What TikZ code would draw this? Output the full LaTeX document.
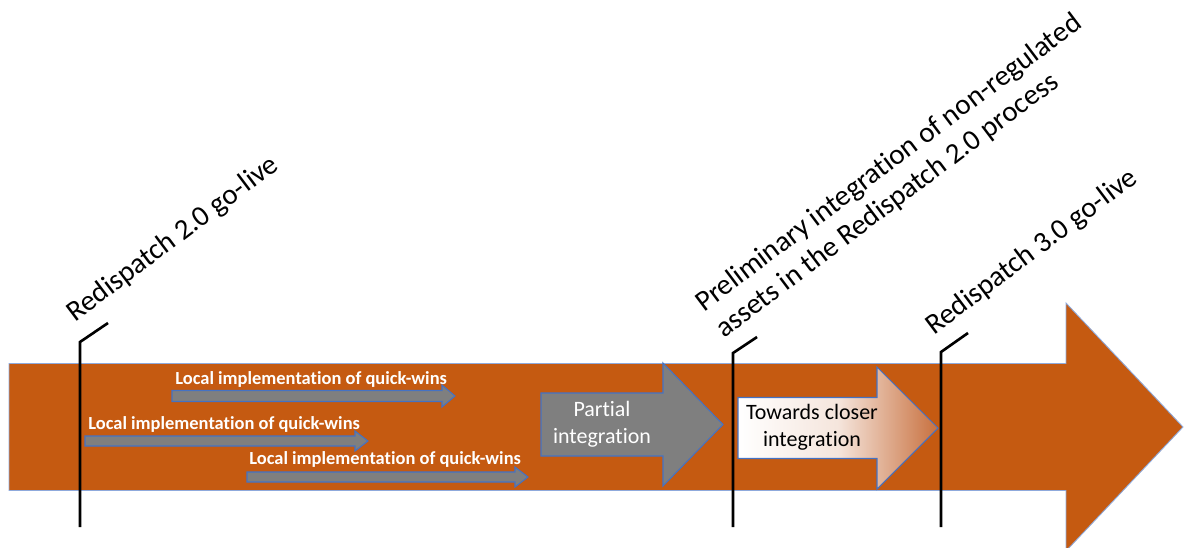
\documentclass[tikz,border=0pt]{standalone}
\usepackage{fontspec}
\setmainfont{Carlito}[Ligatures=NoCommon]
\usetikzlibrary{positioning}
\definecolor{rdorange}{RGB}{197,90,17}
\definecolor{rdgray}{RGB}{127,127,127}
\definecolor{rdedge}{RGB}{68,114,196}
\definecolor{rdtan}{RGB}{200,112,62}
\tikzset{
  bigarr/.style={fill=rdorange, draw=rdedge!60, line width=0.5pt},
  qwarr/.style={fill=rdgray, draw=rdedge, line width=0.6pt},
  qwlab/.style={anchor=base west, inner sep=0pt, text=white,
                font=\fontsize{10.5}{12}\selectfont\bfseries},
  stepgray/.style={fill=rdgray, draw=rdedge, line width=0.6pt},
  stepgrad/.style={left color=white, right color=rdtan, middle color=rdtan!18,
                   draw=rdedge, line width=0.6pt},
  steplab/.style={align=center, inner sep=0pt, font=\fontsize{12.5}{15.5}\selectfont},
  lead/.style={black, line width=1.5pt},
  msl/.style={rotate=37, inner sep=0pt, align=left, font=\fontsize{16.5}{19}\selectfont},
}
% style, left x, head start x, tip x, centre y, shaft half, head half
\newcommand{\fatarrow}[7]{%
  \draw[#1] (#2,#5-#6) -- (#3,#5-#6) -- (#3,#5-#7) -- (#4,#5)
    -- (#3,#5+#7) -- (#3,#5+#6) -- (#2,#5+#6) -- cycle;}

\begin{document}
\begin{tikzpicture}[x=0.02cm, y=-0.02cm]
    \useasboundingbox (0,0) rectangle (1184,548);
    % timeline
    \fatarrow{bigarr}{9}{1066}{1183}{427}{63.5}{124}
    % quick-wins
    \fatarrow{qwarr}{172}{442}{455}{396}{5.5}{11}
    \fatarrow{qwarr}{85}{355}{368}{441}{5}{10}
    \fatarrow{qwarr}{247}{515}{528}{477}{5}{10}
    \node[qwlab] (qw1) at (175,384) {Local implementation of quick-wins};
    \node[qwlab] (qw2) at (88,429) {Local implementation of quick-wins};
    \node[qwlab] (qw3) at (249,464) {Local implementation of quick-wins};
    % steps
    \fatarrow{stepgray}{541}{663}{723}{424.5}{31.5}{61.5}
    \fatarrow{stepgrad}{738}{877}{938}{428}{30.5}{61}
    \node[steplab, text=white] (partial) at (602,424) {Partial\\integration};
    \node[steplab] (closer) at (812,427) {Towards closer\\integration};
    % milestones
    \coordinate (f1) at (80,527);  \coordinate (k1) at (80,342);  \coordinate (e1) at (108,323);
    \coordinate (f2) at (733,527); \coordinate (k2) at (733,353); \coordinate (e2) at (757,337);
    \coordinate (f3) at (941,527); \coordinate (k3) at (941,352); \coordinate (e3) at (968,333);
    \draw[lead] (f1) -- (k1) -- (e1);
    \draw[lead] (f2) -- (k2) -- (e2);
    \draw[lead] (f3) -- (k3) -- (e3);
    \node[msl, anchor=base west] (ms1) at (75,323) {Redispatch 2.0 go-live};
    \node[msl, anchor=south west] (ms2) at (727,343)
      {Preliminary integration of non-regulated\\assets in the Redispatch 2.0 process};
    \node[msl, anchor=base west] (ms3) at (934,336) {Redispatch 3.0 go-live};
\end{tikzpicture}
\end{document}
